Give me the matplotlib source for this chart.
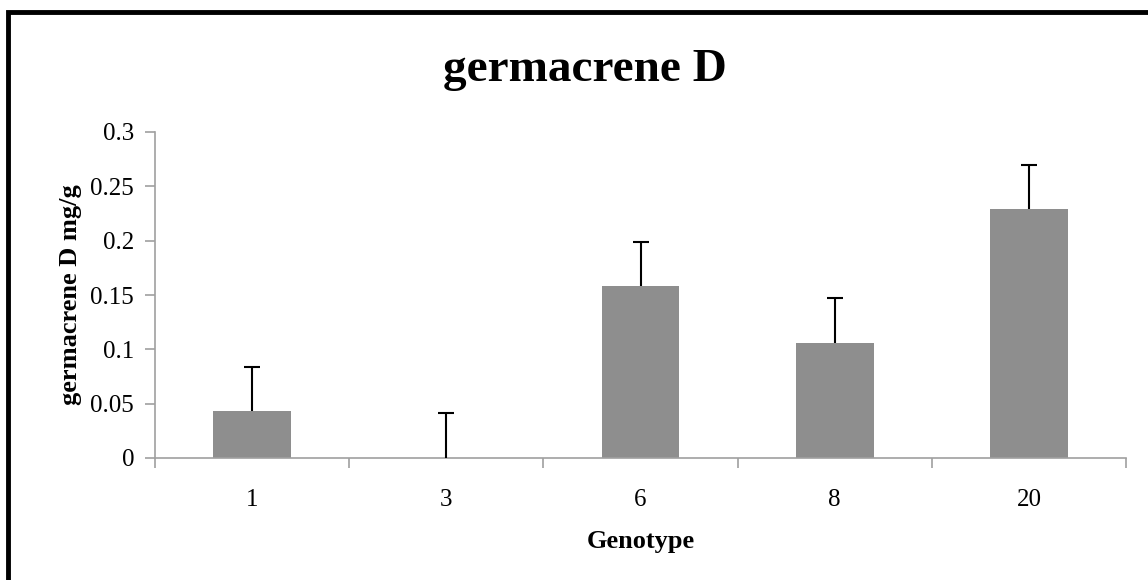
import matplotlib
matplotlib.use('Agg')
import matplotlib.pyplot as plt
from matplotlib.patches import Rectangle

plt.rcParams['font.family'] = 'Liberation Serif'

genotypes = ['1', '3', '6', '8', '20']
means = [0.043, 0.0, 0.158, 0.106, 0.229]
errors = [0.041, 0.041, 0.041, 0.041, 0.041]

W, H = 1148, 580
fig = plt.figure(figsize=(W / 100, H / 100), dpi=100)
ax = fig.add_axes([155 / W, 1 - 458 / H, (1126 - 155) / W, (458 - 132) / H])

x = list(range(len(genotypes)))
ax.bar(x, means, width=0.4, color='#8e8e8e', zorder=2)
eb = ax.errorbar(x, means, yerr=[[0] * len(errors), errors], fmt='none',
                 ecolor='black', elinewidth=1.5, capsize=6, capthick=1.5, zorder=3)
# only the upper cap, like Excel's "plus" error bars
eb[1][0].set_visible(False)

ax.set_xlim(-0.5, len(genotypes) - 0.5)
ax.set_ylim(0, 0.3)
ax.set_yticks([0, 0.05, 0.1, 0.15, 0.2, 0.25, 0.3])
ax.set_yticklabels(['0', '0.05', '0.1', '0.15', '0.2', '0.25', '0.3'])
ax.set_xticks(x)
ax.set_xticklabels(genotypes)
ax.set_xticks([i - 0.5 for i in range(len(genotypes) + 1)], minor=True)
ax.tick_params(axis='x', which='major', length=0, pad=22, labelsize=18)
ax.tick_params(axis='x', which='minor', length=7, color='#a0a0a0', width=1.2)
ax.tick_params(axis='y', length=7, color='#a0a0a0', width=1.2, pad=8, labelsize=18)

for s in ['top', 'right']:
    ax.spines[s].set_visible(False)
for s in ['left', 'bottom']:
    ax.spines[s].set_color('#a0a0a0')
    ax.spines[s].set_linewidth(1.2)

ax.set_xlabel('Genotype', fontsize=19, fontweight='bold', labelpad=14)
ax.set_ylabel('germacrene D mg/g', fontsize=19, fontweight='bold')
ax.yaxis.set_label_coords((82 - 155) / 971, 0.5)
fig.text(585 / W, 1 - 70 / H, 'germacrene D', fontsize=34, fontweight='bold',
         ha='center', va='center')

# outer frame (right and bottom edges fall outside the picture)
fig.add_artist(Rectangle((8 / W, -0.1), 1.2, 1 - 12 / H + 0.1,
                         transform=fig.transFigure, fill=False,
                         edgecolor='black', linewidth=3.5))

fig.savefig('out.png', dpi=100)
